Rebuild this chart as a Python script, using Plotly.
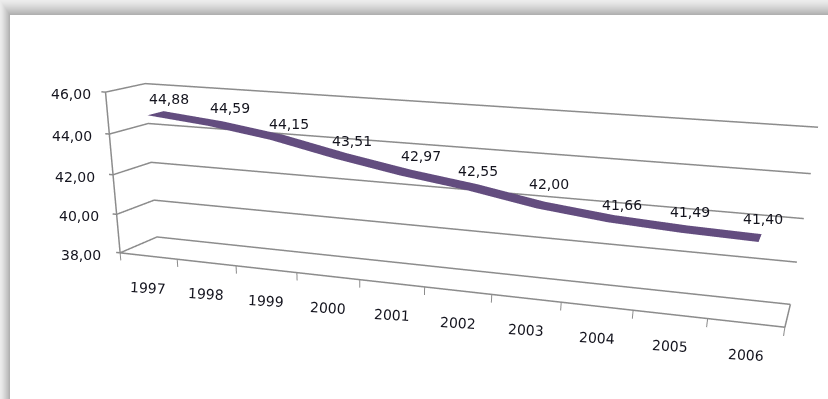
import plotly.graph_objects as go

# Yearly series and axis labels
years = ["1997", "1998", "1999", "2000", "2001", "2002", "2003", "2004", "2005", "2006"]
values = [44.88, 44.59, 44.15, 43.51, 42.97, 42.55, 42.00, 41.66, 41.49, 41.40]
levels = [38, 40, 42, 44, 46]

# Pixel nudges that keep each data label clear of the ribbon
label_dx = [13, 14, 12, 11, 15, 6, 8, 11, 6, 3]
label_dy = [14, 16, 13, 15, 16, 16, 21, 14, 17, 19]
level_dx = [-39, -38, -38, -37, -35]


def comma(v):
    return f"{v:.2f}".replace(".", ",")


W, H = 828, 1000  # tall scene gives the narrow field of view of the 3D chart
GRID = "#8c8c8c"
INK = "#14141e"
RIBBON = "#634d7f"
FONT = "DejaVu Sans"
SIZE = 14
DEPTH_FRONT, DEPTH_BACK = 0.26, 0.68

n = len(years)
x_lo, x_hi = -0.5, n - 0.5
z_lo, z_hi = levels[0], levels[-1]


def grid_line(xs, ys, zs, width=3):
    return go.Scatter3d(x=xs, y=ys, z=zs, mode="lines", hoverinfo="skip", showlegend=False,
                        line=dict(color=GRID, width=width))


fig = go.Figure()

# Side-wall and back-wall gridlines, one per value level
for lv in levels:
    fig.add_trace(grid_line([x_lo, x_lo, x_hi], [0, 1, 1], [lv, lv, lv]))
    fig.add_trace(grid_line([x_lo - 0.07, x_lo], [0, 0], [lv, lv]))

# Value axis and floor outline
fig.add_trace(grid_line([x_lo, x_lo], [0, 0], [z_lo, z_hi]))
fig.add_trace(grid_line([x_lo, x_hi, x_hi], [0, 0, 1], [z_lo, z_lo, z_lo]))

# Category tick marks below the front edge of the floor
for k in range(n + 1):
    fig.add_trace(grid_line([x_lo + k, x_lo + k], [0, 0], [z_lo, z_lo - 0.4], width=2))

# Ribbon for the series, a strip with some depth
rx, ry, rz, ti, tj, tk = [], [], [], [], [], []
for k, v in enumerate(values):
    rx += [k, k]
    ry += [DEPTH_FRONT, DEPTH_BACK]
    rz += [v, v]
    if k < n - 1:
        a = 2 * k
        ti += [a, a + 1]
        tj += [a + 1, a + 3]
        tk += [a + 2, a + 2]
fig.add_trace(go.Mesh3d(x=rx, y=ry, z=rz, i=ti, j=tj, k=tk, color=RIBBON, flatshading=True,
                        hoverinfo="skip", showscale=False,
                        lighting=dict(ambient=1, diffuse=0, specular=0, roughness=1, fresnel=0)))

font = dict(family=FONT, size=SIZE, color=INK)
notes = []
for k, v in enumerate(values):
    notes.append(dict(x=k, y=0.475, z=v, text=comma(v), showarrow=False,
                      xshift=label_dx[k], yshift=label_dy[k], font=font))
for k, yr in enumerate(years):
    notes.append(dict(x=k, y=0, z=z_lo, text=yr, showarrow=False, yshift=-32, textangle=3, font=font))
for lv, dx in zip(levels, level_dx):
    notes.append(dict(x=x_lo, y=0, z=lv, text=comma(lv), showarrow=False, xshift=dx, yshift=-2, font=font))

# Card with a soft shadow along its top and left edges
shapes = []
CARD_X, CARD_Y = 10, 15
STEPS = 15
for s in range(STEPS):
    t = s / STEPS
    g = round(236 - 66 * t ** 1.3)
    shapes.append(dict(type="rect", xref="paper", yref="paper", layer="below", line=dict(width=0),
                       fillcolor=f"rgb({g},{g},{g})",
                       x0=CARD_X * t / W, x1=1, y0=0, y1=1 - CARD_Y * t / H))
shapes.append(dict(type="rect", xref="paper", yref="paper", layer="below", line=dict(width=0),
                   fillcolor="white", x0=CARD_X / W, x1=1, y0=0, y1=1 - CARD_Y / H))

# Wall and floor box spans a symmetric wider range so nothing sits on the clip bounds
pad_x, pad_y, pad_z = 1.2, 3.0, 3.0
x_mid, x_half = (x_lo + x_hi) / 2, (x_hi - x_lo) / 2
z_mid, z_half = (z_lo + z_hi) / 2, (z_hi - z_lo) / 2
hidden = dict(visible=False, showspikes=False)

fig.update_layout(
    width=W, height=H, margin=dict(l=0, r=0, t=0, b=0), paper_bgcolor="white",
    shapes=shapes, showlegend=False,
    scene=dict(
        domain=dict(x=[0, 1], y=[0, 1]), bgcolor="rgba(0,0,0,0)", dragmode="orbit", hovermode=False,
        aspectmode="manual",
        aspectratio=dict(x=3.837 * pad_x, y=0.430 * pad_y, z=0.915 * pad_z),
        xaxis=dict(range=[x_mid - x_half * pad_x, x_mid + x_half * pad_x], **hidden),
        yaxis=dict(range=[0.5 - 0.5 * pad_y, 0.5 + 0.5 * pad_y], **hidden),
        zaxis=dict(range=[z_mid - z_half * pad_z, z_mid + z_half * pad_z], **hidden),
        camera=dict(eye=dict(x=2.058, y=-6.370, z=1.375),
                    center=dict(x=0.748, y=-2.526, z=-0.587),
                    up=dict(x=-0.825, y=2.312, z=1),
                    projection=dict(type="perspective")),
        annotations=notes,
    ),
)

fig.write_html("out.html", config=dict(displayModeBar=False),
               post_script="document.documentElement.style.overflow='hidden';"
                           "document.body.style.overflow='hidden';")
